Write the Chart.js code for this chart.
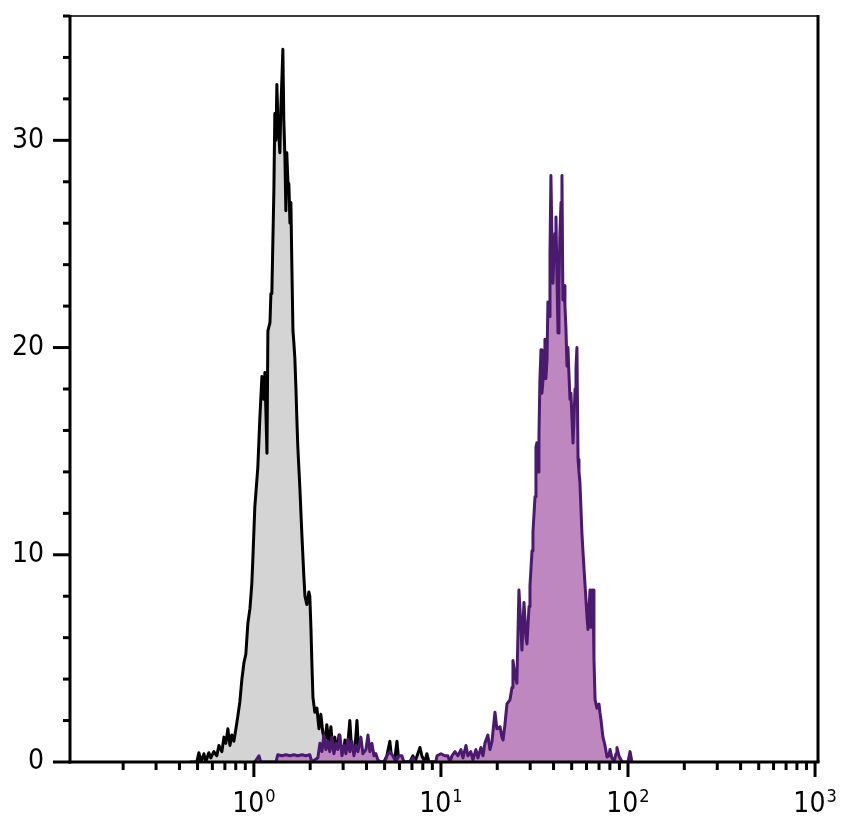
<!DOCTYPE html>
<html>
<head>
<meta charset="utf-8">
<script src="https://cdn.jsdelivr.net/npm/chart.js@4.4.1/dist/chart.umd.min.js"></script>
<style>
  html, body { margin: 0; padding: 0; background: #fff; }
  #wrap { width: 845px; height: 832px; }
</style>
</head>
<body>
<div id="wrap"><canvas id="histo" width="845" height="832"></canvas></div>
<script>
/* ------------------------------- Data ------------------------------- */
// channel positions in log10 units, counts
const grayLogX = [
  -0.342, -0.305, -0.294, -0.283, -0.267, -0.257, -0.241, -0.230, -0.214, -0.198,
  -0.187, -0.171, -0.160, -0.150, -0.139, -0.128, -0.118, -0.107, -0.096, -0.086,
  -0.075, -0.064, -0.053, -0.043, -0.032, -0.021, -0.011, -0.005, 0.005, 0.016,
  0.021, 0.032, 0.043, 0.053, 0.059, 0.070, 0.075, 0.086, 0.091, 0.096,
  0.107, 0.112, 0.118, 0.123, 0.128, 0.134, 0.139, 0.144, 0.150, 0.155,
  0.160, 0.166, 0.171, 0.176, 0.182, 0.187, 0.193, 0.198, 0.203, 0.209,
  0.214, 0.219, 0.225, 0.230, 0.235, 0.246, 0.257, 0.267, 0.273, 0.283,
  0.294, 0.299, 0.305, 0.310, 0.316, 0.326, 0.337, 0.348, 0.358, 0.369,
  0.380, 0.390, 0.401, 0.412, 0.422, 0.433, 0.444, 0.455, 0.465, 0.476,
  0.487, 0.497, 0.513, 0.524, 0.540, 0.551, 0.561, 0.578, 0.594, 0.610,
  0.626, 0.647, 0.663, 0.695, 0.711, 0.727, 0.738, 0.754, 0.765, 0.775,
  0.834, 0.850, 0.861, 0.888, 0.898, 0.914, 0.925, 0.936, 0.968
];
const grayCounts = [
  0, 0, 0.45, 0, 0.4, 0, 0.45, 0.2, 0.5, 0.3,
  0.8, 0.5, 1.2, 0.9, 1.6, 0.8, 1.3, 1.0, 1.6, 2.2,
  2.9, 4.0, 4.8, 5.2, 6.7, 7.4, 8.6, 9.9, 12.3, 13.6,
  14.2, 16.6, 18.6, 17.5, 18.8, 14.9, 20.8, 21.2, 22.6, 22.6,
  27.6, 31.3, 30.0, 32.7, 31.0, 30.2, 29.4, 31.5, 33.0, 34.4,
  31.0, 29.2, 26.6, 29.4, 28.0, 27.9, 26.0, 27.0, 24.0, 20.8,
  20.2, 19.5, 18.0, 16.5, 15.2, 13.2, 10.9, 9.0, 8.0, 7.6,
  8.2, 8.0, 6.5, 4.8, 3.1, 2.4, 2.6, 1.6, 2.3, 1.4,
  1.0, 1.8, 0.9, 1.7, 0.6, 1.2, 0.4, 1.3, 0.5, 0.2,
  1.06, 0.3, 2.0, 0.4, 0.6, 2.0, 0.3, 0.6, 0.3, 0.2,
  0, 0.2, 0, 0, 0.3, 1.0, 0, 0.2, 1.0, 0,
  0, 0.3, 0, 0.7, 0.3, 0, 0.4, 0, 0
];

const purpleLogX = [
  0.005, 0.027, 0.037, 0.118, 0.128, 0.150, 0.171, 0.193, 0.214, 0.235,
  0.257, 0.278, 0.299, 0.310, 0.342, 0.353, 0.364, 0.374, 0.385, 0.396,
  0.406, 0.417, 0.428, 0.439, 0.449, 0.460, 0.471, 0.481, 0.492, 0.503,
  0.513, 0.524, 0.535, 0.545, 0.556, 0.572, 0.583, 0.599, 0.610, 0.620,
  0.631, 0.642, 0.652, 0.663, 0.679, 0.701, 0.711, 0.727, 0.743, 0.759,
  0.775, 0.791, 0.802, 0.834, 0.850, 0.861, 0.973, 0.979, 1.000, 1.021,
  1.037, 1.048, 1.059, 1.075, 1.091, 1.107, 1.118, 1.134, 1.144, 1.160,
  1.171, 1.187, 1.198, 1.214, 1.225, 1.235, 1.251, 1.262, 1.273, 1.289,
  1.299, 1.316, 1.326, 1.332, 1.342, 1.353, 1.369, 1.380, 1.385, 1.396,
  1.406, 1.417, 1.428, 1.433, 1.444, 1.455, 1.460, 1.471, 1.476, 1.487,
  1.492, 1.503, 1.508, 1.513, 1.519, 1.524, 1.529, 1.535, 1.540, 1.551,
  1.556, 1.561, 1.567, 1.572, 1.578, 1.583, 1.588, 1.594, 1.599, 1.604,
  1.610, 1.615, 1.620, 1.626, 1.631, 1.636, 1.642, 1.647, 1.652, 1.658,
  1.663, 1.668, 1.674, 1.679, 1.684, 1.690, 1.695, 1.701, 1.706, 1.711,
  1.717, 1.722, 1.727, 1.733, 1.738, 1.743, 1.754, 1.759, 1.770, 1.781,
  1.786, 1.797, 1.802, 1.813, 1.818, 1.824, 1.834, 1.845, 1.850, 1.856,
  1.866, 1.877, 1.888, 1.898, 1.904, 1.914, 1.925, 1.936, 1.941, 1.952,
  1.957, 1.968, 2.000, 2.011, 2.021
];
const purpleCounts = [
  0, 0.3, 0, 0, 0.35, 0.3, 0.35, 0.3, 0.35, 0.3,
  0.35, 0.3, 0.35, 0, 0.2, 0.9, 0.5, 1.3, 0.6, 1.0,
  0.5, 1.2, 0.4, 0.9, 0.6, 1.3, 0.3, 0.8, 0.4, 1.1,
  0.5, 1.0, 0.3, 0.8, 0.5, 1.2, 0.4, 0.6, 1.3, 0.5,
  0.9, 0.3, 0.4, 0.1, 0, 0, 0.3, 0.5, 0.3, 0,
  0.3, 0.3, 0, 0, 0.2, 0, 0, 0.3, 0.4, 0.3,
  0.3, 0, 0.3, 0.5, 0.3, 0.6, 0.2, 0.8, 0.3, 0.5,
  0.1, 0.6, 0.2, 0.7, 0.3, 0.9, 1.3, 0.6, 1.0, 2.4,
  1.6, 1.7, 1.2, 1.06, 1.8, 2.8, 3.0, 3.6, 4.9, 4.2,
  3.8, 8.3, 6.5, 5.4, 7.7, 6.0, 5.7, 7.5, 8.5, 10.2,
  11.1, 12.8, 15.2, 15.4, 14.0, 15.7, 18.4, 19.9, 17.8, 19.0,
  20.4, 18.5, 19.4, 22.2, 21.5, 24.5, 28.3, 25.0, 23.1, 24.5,
  25.5, 26.3, 23.5, 20.7, 23.0, 25.5, 27.0, 28.3, 22.3, 23.0,
  22.0, 21.0, 19.1, 20.0, 18.8, 17.5, 17.8, 16.5, 15.4, 16.5,
  18.0, 19.0, 20.0, 14.6, 14.0, 13.5, 11.0, 10.2, 8.6, 7.0,
  6.4, 8.3, 6.5, 8.3, 5.0, 3.0, 2.6, 2.8, 2.4, 2.0,
  1.2, 0.8, 0.24, 0.3, 0.6, 0.2, 0, 0.4, 0.7, 0.3,
  0.3, 0, 0, 0.5, 0
];

// axis
const xMajorTicks = [1, 10, 100, 1000];
const xTickExponents = ["0", "1", "2", "3"];
const xMinorTicks = [
  0.2, 0.3, 0.4, 0.5, 0.6, 0.7, 0.8, 0.9,
  2, 3, 4, 5, 6, 7, 8, 9,
  20, 30, 40, 50, 60, 70, 80, 90,
  200, 300, 400, 500, 600, 700, 800, 900
];
const yLabelTicks = [0, 10, 20, 30];

const FONT = "'Liberation Sans Narrow', 'DejaVu Sans Condensed', 'Liberation Sans', sans-serif";

const toPoints = (logs, counts) =>
  logs.map((lx, i) => ({ x: Math.pow(10, lx), y: counts[i] }));

/* --------------------------- Frame + ticks --------------------------- */
const framePlugin = {
  id: "frame",
  afterDatasetsDraw(chart) {
    const { ctx, chartArea: a, scales } = chart;
    const xs = scales.x;
    const ys = scales.y;

    const seg = (x1, y1, x2, y2) => {
      ctx.beginPath();
      ctx.moveTo(x1, y1);
      ctx.lineTo(x2, y2);
      ctx.stroke();
    };

    ctx.save();
    ctx.lineCap = "butt";

    // box
    ctx.strokeStyle = "#3c3c3c";
    ctx.lineWidth = 2;
    seg(a.left, a.top, a.right, a.top);
    ctx.strokeStyle = "#000";
    ctx.lineWidth = 3;
    seg(a.right, a.top - 1, a.right, a.bottom);
    seg(a.left, a.top - 1, a.left, a.bottom + 1.5);
    seg(a.left - 1.5, a.bottom, a.right + 1.5, a.bottom);

    // y ticks
    ys.ticks.forEach((t) => {
      const py = ys.getPixelForValue(t.value);
      const len = yLabelTicks.includes(t.value) ? 17 : 7;
      seg(a.left - len, py, a.left, py);
    });

    // x ticks
    xMinorTicks.forEach((v) => {
      const px = xs.getPixelForValue(v);
      seg(px, a.bottom, px, a.bottom + 8);
    });
    xMajorTicks.forEach((v) => {
      const px = xs.getPixelForValue(v);
      seg(px, a.bottom, px, a.bottom + 15);
    });

    // x labels 10^n
    ctx.fillStyle = "#000";
    ctx.textBaseline = "alphabetic";
    ctx.textAlign = "left";
    xMajorTicks.forEach((v, i) => {
      const px = xs.getPixelForValue(v);
      ctx.font = `28px ${FONT}`;
      const wBase = ctx.measureText("10").width;
      ctx.font = `18px ${FONT}`;
      const wExp = ctx.measureText(xTickExponents[i]).width;
      const start = px - (wBase + wExp + 1) / 2;
      ctx.font = `28px ${FONT}`;
      ctx.fillText("10", start, a.bottom + 50);
      ctx.font = `18px ${FONT}`;
      ctx.fillText(xTickExponents[i], start + wBase + 1, a.bottom + 40);
    });

    ctx.restore();
  },
};

const noPad = (scale) => {
  scale.paddingTop = 0;
  scale.paddingBottom = 0;
  scale.paddingLeft = 0;
  scale.paddingRight = 0;
};

/* ------------------------------ Chart ------------------------------ */
const ctx = document.getElementById("histo").getContext("2d");

new Chart(ctx, {
  type: "line",
  data: {
    datasets: [
      {
        label: "Stained",
        data: toPoints(purpleLogX, purpleCounts),
        borderColor: "#4a1a6e",
        backgroundColor: "#bf87c0",
        borderWidth: 3,
        borderJoinStyle: "round",
        fill: "origin",
        pointRadius: 0,
        tension: 0,
      },
      {
        label: "Control",
        data: toPoints(grayLogX, grayCounts),
        borderColor: "#000000",
        backgroundColor: "#d4d4d4",
        borderWidth: 3,
        borderJoinStyle: "round",
        fill: "origin",
        pointRadius: 0,
        tension: 0,
      },
    ],
  },
  options: {
    responsive: false,
    animation: false,
    devicePixelRatio: 1,
    layout: {
      padding: { top: 16, right: 27, left: 0, bottom: 0 },
    },
    plugins: {
      legend: { display: false },
      tooltip: { enabled: false },
    },
    scales: {
      x: {
        type: "logarithmic",
        min: 0.104,
        max: 1037,
        grid: { display: false, drawTicks: false },
        border: { display: false },
        ticks: { display: false },
        afterFit(scale) {
          scale.height = 70;
          noPad(scale);
        },
      },
      y: {
        type: "linear",
        min: 0,
        max: 36,
        grid: { display: false, drawTicks: false },
        border: { display: false },
        ticks: {
          stepSize: 2,
          padding: 26,
          color: "#000",
          font: { family: FONT, size: 28 },
          callback: (v) => (yLabelTicks.includes(v) ? String(v) : ""),
        },
        afterFit(scale) {
          scale.width = 70;
          noPad(scale);
        },
      },
    },
  },
  plugins: [framePlugin],
});
</script>
</body>
</html>
